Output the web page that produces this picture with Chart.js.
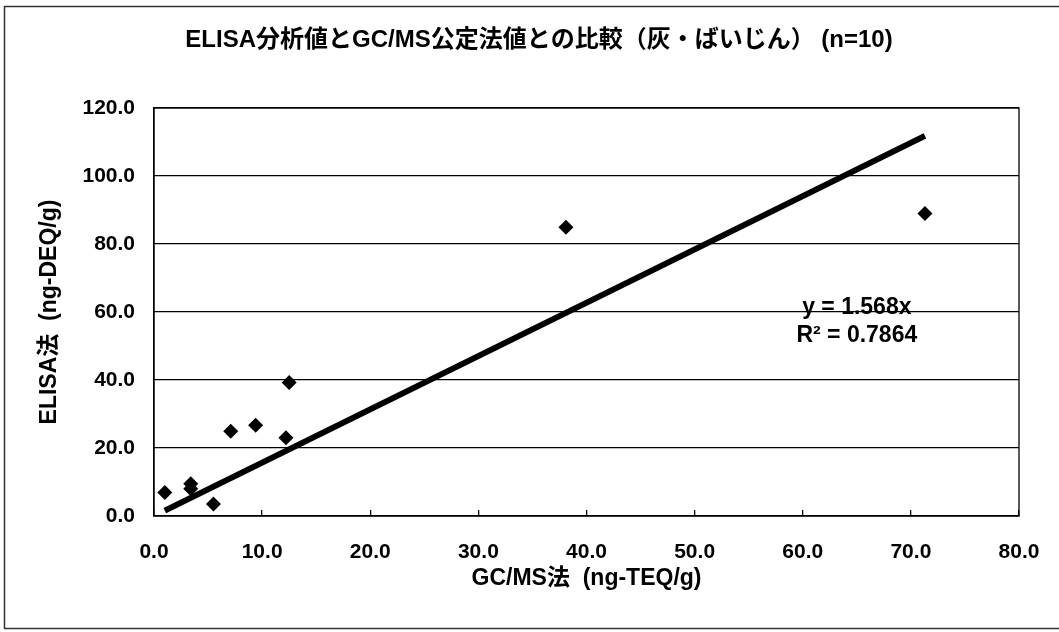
<!DOCTYPE html>
<html>
<head>
<meta charset="utf-8">
<script src="https://cdn.jsdelivr.net/npm/chart.js@4/dist/chart.umd.min.js"></script>
<style>
html, body { margin: 0; padding: 0; background: #fff; }
</style>
</head>
<body>
<canvas id="elisaChart" width="1059" height="632"></canvas>
<script>
// GC/MS (x) vs ELISA (y)
const gcmsValues = [1.0, 3.4, 3.4, 5.5, 7.1, 9.4, 12.2, 12.5, 38.1, 71.3];
const elisaValues = [6.9, 9.5, 8.0, 3.5, 24.9, 26.7, 23.0, 39.3, 84.9, 89.0];

// regression through origin, as printed on the chart
const trendSlope = 1.568;
const rSquared = 0.7864;

const xRange = [0, 80];
const yRange = [0, 120];

const chartTitle = 'ELISA分析値とGC/MS公定法値との比較（灰・ばいじん） (n=10)';
const xTitle = 'GC/MS法  (ng-TEQ/g)';
const yTitle = 'ELISA法  (ng-DEQ/g)';

// where the equation text sits, in data units
const labelX = 65.0;
const labelY = [61.3, 53.1];

const fontFamily = '"Liberation Sans", "Noto Sans CJK JP", sans-serif';
Chart.defaults.font.family = fontFamily;
Chart.defaults.color = '#000';

const points = gcmsValues.map((x, i) => ({ x: x, y: elisaValues[i] }));
const xMin = Math.min(...gcmsValues);
const xMax = Math.max(...gcmsValues);
const trendPoints = [
    { x: xMin, y: trendSlope * xMin },
    { x: xMax, y: trendSlope * xMax }
];

// title (sits a bit right of centre, like the original), frame, plot box and equation
const framePlugin = {
    id: 'frame',
    afterDraw(chart) {
        const { ctx, chartArea, scales } = chart;
        ctx.save();
        ctx.strokeStyle = '#000';
        ctx.lineWidth = 1.3;
        ctx.strokeRect(chartArea.left, chartArea.top, chartArea.right - chartArea.left, chartArea.bottom - chartArea.top);
        ctx.strokeStyle = '#333';
        ctx.lineWidth = 1.5;
        ctx.strokeRect(4.5, 6.5, 1100, 622);

        ctx.fillStyle = '#000';
        ctx.textAlign = 'center';
        ctx.textBaseline = 'middle';
        ctx.font = 'bold 24px ' + fontFamily;
        ctx.fillText(chartTitle, 539, 40);

        ctx.font = 'bold 23px ' + fontFamily;
        const px = scales.x.getPixelForValue(labelX);
        ctx.fillText('y = ' + trendSlope.toFixed(3) + 'x', px, scales.y.getPixelForValue(labelY[0]));
        ctx.fillText('R² = ' + rSquared.toFixed(4), px, scales.y.getPixelForValue(labelY[1]));
        ctx.restore();
    }
};

const ctx = document.getElementById('elisaChart').getContext('2d');
const elisaChart = new Chart(ctx, {
    type: 'scatter',
    data: {
        datasets: [{
            label: 'ELISA',
            data: points,
            pointStyle: 'rectRot',
            pointRadius: 7.5,
            backgroundColor: '#000',
            borderColor: '#000',
            borderWidth: 0
        },
        {
            type: 'line',
            label: 'trend',
            data: trendPoints,
            borderColor: '#000',
            borderWidth: 6,
            pointRadius: 0,
            fill: false
        }]
    },
    options: {
        responsive: false,
        animation: false,
        devicePixelRatio: 1,
        layout: {
            padding: { left: 10, right: 40, top: 108, bottom: 10 }
        },
        plugins: {
            legend: { display: false },
            tooltip: { enabled: false },
            title: { display: false }
        },
        scales: {
            x: {
                type: 'linear',
                min: xRange[0],
                max: xRange[1],
                afterFit(scale) {
                    scale.height = 106;
                    scale.paddingLeft = 0;
                    scale.paddingRight = 0;
                },
                ticks: {
                    stepSize: 10,
                    padding: 30,
                    maxRotation: 0,
                    font: { size: 21, weight: 'bold' },
                    callback: v => v.toFixed(1)
                },
                grid: {
                    drawOnChartArea: false,
                    tickLength: -6,
                    color: '#000',
                    lineWidth: 1.3
                },
                border: { display: true, color: '#000', width: 1.3 },
                title: {
                    display: true,
                    text: xTitle,
                    font: { size: 23, weight: 'bold' },
                    padding: { top: 0, bottom: 30 }
                }
            },
            y: {
                type: 'linear',
                min: yRange[0],
                max: yRange[1],
                afterFit(scale) {
                    scale.width = 144;
                    scale.paddingTop = 0;
                    scale.paddingBottom = 0;
                },
                ticks: {
                    stepSize: 20,
                    padding: 19,
                    font: { size: 21, weight: 'bold' },
                    callback: v => v.toFixed(1)
                },
                grid: {
                    drawTicks: false,
                    color: '#000',
                    lineWidth: 1.3
                },
                border: { display: true, color: '#000', width: 1.3 },
                title: {
                    display: true,
                    text: yTitle,
                    font: { size: 23, weight: 'bold' },
                    padding: { top: 26, bottom: 0 }
                }
            }
        }
    },
    plugins: [framePlugin]
});
</script>
</body>
</html>
